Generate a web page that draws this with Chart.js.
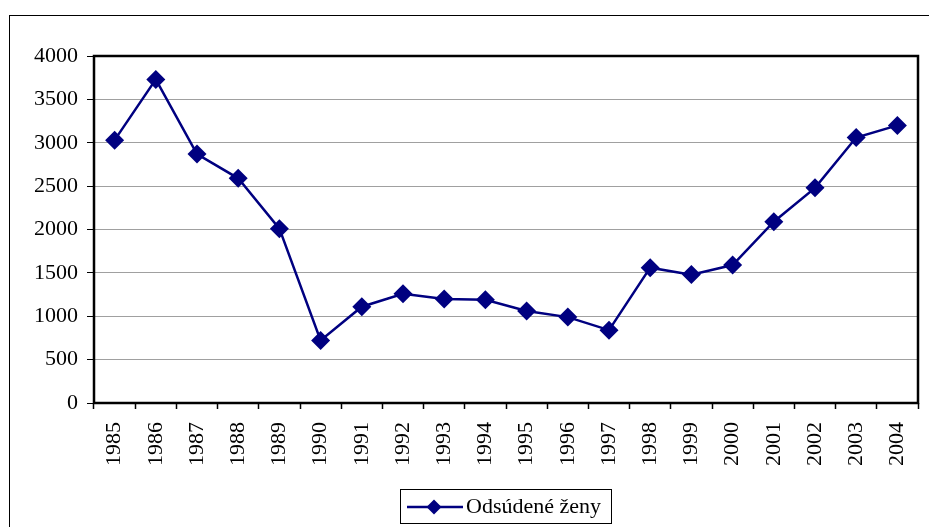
<!DOCTYPE html>
<html>
<head>
<meta charset="utf-8">
<script src="https://cdn.jsdelivr.net/npm/chart.js@4.4.0/dist/chart.umd.min.js"></script>
<style>
  html, body { margin: 0; padding: 0; background: #fff; }
  #wrap { width: 929px; height: 527px; position: relative; }
</style>
</head>
<body>
<div id="wrap"><canvas id="my-canvas" width="929" height="527"></canvas></div>
<script>
// data
let years = ['1985', '1986', '1987', '1988', '1989', '1990', '1991', '1992', '1993', '1994',
             '1995', '1996', '1997', '1998', '1999', '2000', '2001', '2002', '2003', '2004'];
let women = [3030, 3730, 2870, 2590, 2010, 720, 1110, 1260, 1200, 1190,
             1060, 990, 840, 1560, 1480, 1590, 2090, 2480, 3060, 3200];
let series_label = 'Odsúdené ženy';
let y_min = 0;
let y_max = 4000;
let y_step = 500;

const navy = '#000080';
const font_family = '"Liberation Serif", "Times New Roman", serif';

// outer frame + plot area border + legend box
const frame_plugin = {
    id: 'frame',
    beforeDraw(chart) {
        let ctx = chart.ctx;
        ctx.save();
        ctx.fillStyle = '#fff';
        ctx.fillRect(0, 0, chart.width, chart.height);
        ctx.strokeStyle = '#000';
        ctx.lineWidth = 1;
        ctx.strokeRect(9.5, 15.5, chart.width + 20, chart.height + 20);
        ctx.restore();
    },
    beforeDatasetsDraw(chart) {
        let a = chart.chartArea;
        let ctx = chart.ctx;
        ctx.save();
        ctx.strokeStyle = '#000';
        ctx.lineWidth = 2.5;
        ctx.strokeRect(a.left, a.top, a.right - a.left, a.bottom - a.top);
        ctx.restore();
    },
    afterDraw(chart) {
        let ctx = chart.ctx;
        let ds = chart.data.datasets[0];
        ctx.save();
        // legend box
        ctx.strokeStyle = '#000';
        ctx.lineWidth = 1;
        ctx.strokeRect(400.5, 489.5, 211, 34);
        // sample line
        ctx.strokeStyle = ds.borderColor;
        ctx.lineWidth = 2.5;
        ctx.beginPath();
        ctx.moveTo(407, 507);
        ctx.lineTo(463, 507);
        ctx.stroke();
        // diamond
        ctx.fillStyle = ds.pointBackgroundColor;
        ctx.beginPath();
        ctx.moveTo(434, 499.5);
        ctx.lineTo(441.5, 507);
        ctx.lineTo(434, 514.5);
        ctx.lineTo(426.5, 507);
        ctx.closePath();
        ctx.fill();
        // text
        ctx.fillStyle = '#000';
        ctx.font = '22px ' + font_family;
        ctx.textBaseline = 'middle';
        ctx.textAlign = 'left';
        ctx.fillText(ds.label, 466, 507);
        ctx.restore();
    }
};

let ctx = document.getElementById('my-canvas');
var chart = new Chart(ctx, {
    type: 'line',
    data: {
        labels: years,
        datasets: [{
            label: series_label,
            data: women,
            borderColor: navy,
            backgroundColor: navy,
            pointBackgroundColor: navy,
            pointBorderColor: navy,
            pointStyle: 'rectRot',
            pointRadius: 9.5,
            pointBorderWidth: 0,
            borderWidth: 2.5,
            tension: 0,
            fill: false
        }]
    },
    options: {
        responsive: false,
        animation: false,
        layout: { padding: { left: 0, top: 56, right: 11, bottom: 0 } },
        scales: {
            x: {
                offset: true,
                grid: {
                    offset: true,
                    drawOnChartArea: false,
                    drawTicks: true,
                    tickLength: 6,
                    tickColor: '#000',
                    tickWidth: 1.5
                },
                border: { display: false },
                ticks: {
                    color: '#000',
                    font: { family: font_family, size: 22 },
                    minRotation: 90,
                    maxRotation: 90,
                    autoSkip: false,
                    padding: 13
                },
                afterFit(scale) {
                    scale.height = 124;
                    scale.paddingLeft = 0;
                    scale.paddingRight = 0;
                }
            },
            y: {
                min: y_min,
                max: y_max,
                ticks: {
                    stepSize: y_step,
                    color: '#000',
                    font: { family: font_family, size: 22 },
                    padding: 9,
                    callback: (v) => String(v)
                },
                grid: {
                    color: '#a0a0a0',
                    lineWidth: 1,
                    drawTicks: true,
                    tickLength: 7,
                    tickColor: '#000'
                },
                border: { display: false },
                afterFit(scale) {
                    scale.width = 94;
                    scale.paddingTop = 0;
                    scale.paddingBottom = 0;
                }
            }
        },
        plugins: {
            legend: { display: false },
            tooltip: { enabled: false }
        }
    },
    plugins: [frame_plugin]
});
</script>
</body>
</html>
